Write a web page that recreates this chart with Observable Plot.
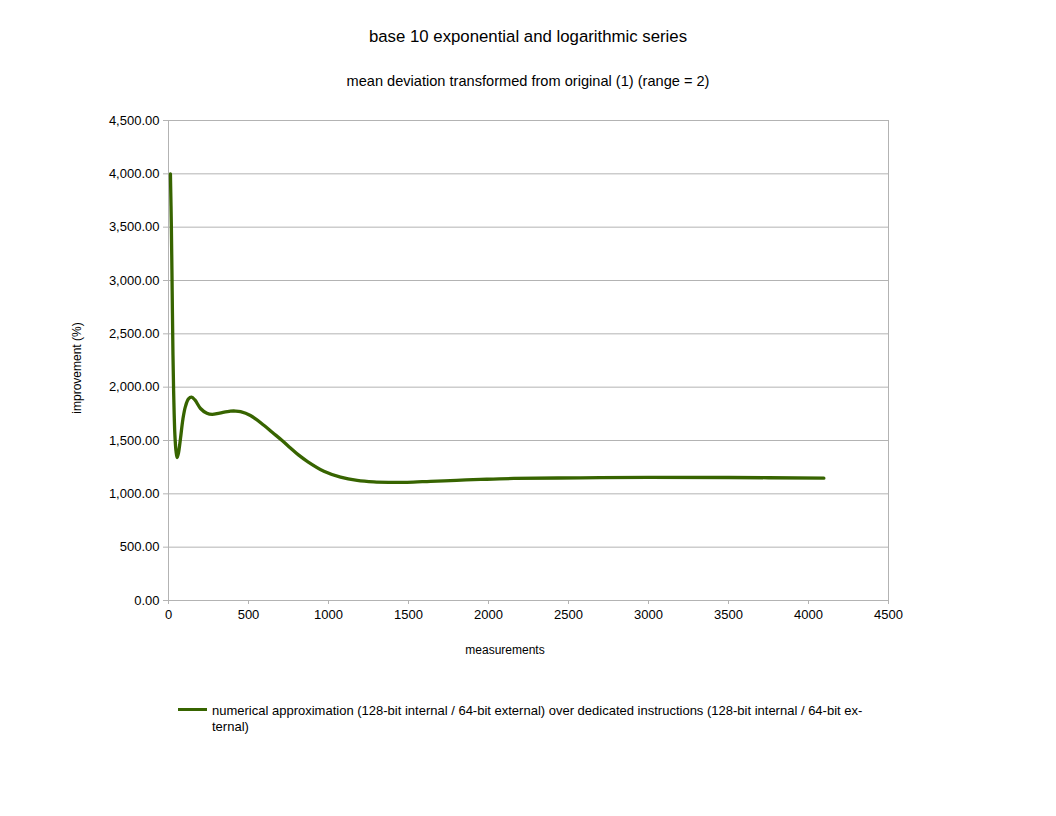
<!DOCTYPE html>
<html>
<head>
<meta charset="utf-8">
<script src="https://cdn.jsdelivr.net/npm/d3@7"></script>
<script src="https://cdn.jsdelivr.net/npm/@observablehq/plot@0.6"></script>
<style>
  html, body { margin: 0; padding: 0; background: #fff; }
  #wrap { position: relative; width: 1056px; height: 816px; font-family: "Liberation Sans", Arial, sans-serif; color: #000; }
  #wrap svg { position: absolute; left: 0; top: 0; }
  .t { position: absolute; white-space: nowrap; }
</style>
</head>
<body>
<div id="wrap">
  <div class="t" id="title" style="left:0;width:1056px;text-align:center;top:27px;font-size:16.8px;">base 10 exponential and logarithmic series</div>
  <div class="t" id="subtitle" style="left:0;width:1056px;text-align:center;top:73px;font-size:14.6px;">mean deviation transformed from original (1) (range = 2)</div>
  <div class="t" id="xlabel" style="left:405px;width:200px;text-align:center;top:643px;font-size:12px;">measurements</div>
  <div class="t" id="ylabel" style="left:-23px;width:200px;text-align:center;top:361px;font-size:12px;transform:rotate(-90deg);">improvement (%)</div>
  <div class="t" id="legend" style="left:178px;top:703px;font-size:13px;line-height:16px;">
    <span style="display:inline-block;width:29px;height:3.5px;background:#376400;vertical-align:middle;margin-right:5px;position:relative;top:-2px;"></span><span id="leg1">numerical approximation (128-bit internal / 64-bit external) over dedicated instructions (128-bit internal / 64-bit ex-</span><br>
    <span style="display:inline-block;width:34px;"></span><span id="leg2">ternal)</span>
  </div>
</div>
<script>
const seriesName = "numerical approximation (128-bit internal / 64-bit external) over dedicated instructions (128-bit internal / 64-bit external)";
const measurements = [12, 18, 23, 28, 33, 40, 47, 54, 62, 75, 90, 106, 125, 144, 165, 200, 240, 273, 320, 387, 420, 450, 512, 596, 650, 710, 762, 812, 867, 971, 1075, 1179, 1283, 1387, 1492, 1637, 1800, 1950, 2158, 2575, 3000, 3500, 4096];
const improvement = [4000, 3500, 2900, 2300, 1900, 1550, 1400, 1340, 1380, 1520, 1700, 1820, 1890, 1906, 1880, 1800, 1755, 1744, 1757, 1775, 1776, 1770, 1734, 1643, 1575, 1500, 1430, 1365, 1305, 1212, 1157, 1126, 1112, 1108, 1108, 1117, 1127, 1135, 1144, 1150, 1155, 1153, 1147];
const xTicks = [0, 500, 1000, 1500, 2000, 2500, 3000, 3500, 4000, 4500];
const yTicks = [0, 500, 1000, 1500, 2000, 2500, 3000, 3500, 4000, 4500];

const data = measurements.map((x, i) => ({x, y: improvement[i]}));
const grid = "#b3b3b3";

const chart = Plot.plot({
  width: 1056,
  height: 816,
  marginLeft: 168,
  marginRight: 168,
  marginTop: 120,
  marginBottom: 216,
  style: {fontFamily: "'Liberation Sans', Arial, sans-serif", fontSize: "13px", color: "#000", background: "transparent", overflow: "visible"},
  x: {domain: [0, 4500], label: null},
  y: {domain: [0, 4500], label: null},
  marks: [
    Plot.gridY(yTicks, {stroke: grid, strokeOpacity: 1}),
    Plot.ruleX([0, 4500], {stroke: grid}),
    Plot.axisY(yTicks, {tickSize: 5, tickPadding: 4, stroke: grid, fill: "#000", tickFormat: d3.format(",.2f"), label: null, fontSize: 13}),
    Plot.axisX(xTicks, {tickSize: 4, tickPadding: 5, stroke: grid, fill: "#000", tickFormat: d => String(d), label: null, fontSize: 13}),
    Plot.line(data, {x: "x", y: "y", curve: "catmull-rom", stroke: "#376400", strokeWidth: 3.3, title: () => seriesName})
  ]
});
document.getElementById("wrap").prepend(chart);
</script>
</body>
</html>
